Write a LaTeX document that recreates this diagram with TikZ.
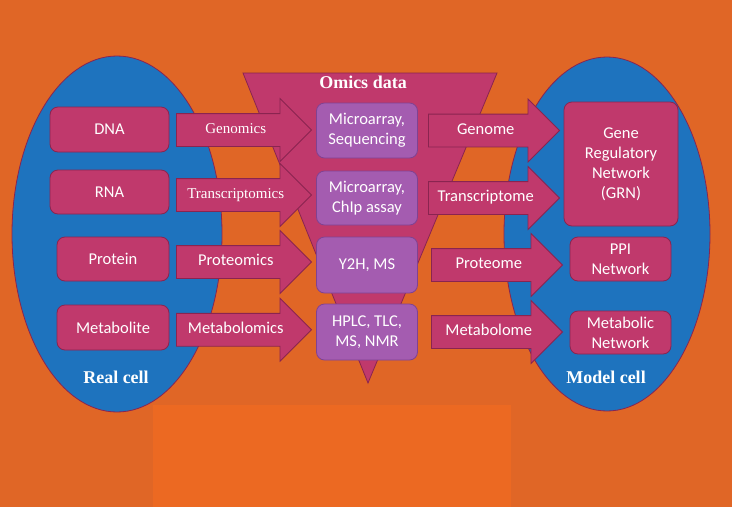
\documentclass[tikz,border=0pt]{standalone}
\usepackage{fontspec}
\setmainfont{Carlito}
\newfontfamily\timesfont{Liberation Serif}
\usepackage{tikz}
\usetikzlibrary{shapes.arrows, calc}
\definecolor{bgorange}{RGB}{224,102,38}
\definecolor{lightorange}{RGB}{236,105,34}
\definecolor{cellblue}{RGB}{30,115,190}
\definecolor{omicsred}{RGB}{192,57,108}
\definecolor{omicsdark}{RGB}{138,36,80}
\definecolor{assaypurple}{RGB}{164,92,176}
\definecolor{assaydark}{RGB}{128,66,146}

\begin{document}
\begin{tikzpicture}[x=1pt, y=-1pt,
    box/.style={draw=omicsdark, fill=omicsred, thick, rounded corners=8pt, text=white, align=center, inner sep=0pt, font=\fontsize{16.5}{20}\selectfont},
    assay/.style={box, draw=assaydark, fill=assaypurple, minimum width=101pt},
    bigarrow/.style={single arrow, draw=omicsdark, fill=omicsred, thick, text=white, single arrow head extend=15pt, text height=10pt, text depth=3pt, inner ysep=9.5pt, inner xsep=1pt, font=\fontsize{16.5}{20}\selectfont},
    serifarrow/.style={bigarrow, font=\timesfont\fontsize{15}{18}\selectfont},
    cell/.style={draw=omicsdark, fill=cellblue, thick},
    title/.style={text=white, font=\timesfont\bfseries\fontsize{18}{22}\selectfont}]
    \useasboundingbox (0,0) rectangle (732,507);
    \fill[bgorange] (0,0) rectangle (732,507);
    \fill[lightorange] (153,405) rectangle (511,507);

    % cells and funnel
    \draw[cell] (117,234) ellipse [x radius=105pt, y radius=178pt];
    \draw[cell] (607,234) ellipse [x radius=103pt, y radius=177pt];
    \draw[draw=omicsdark, fill=omicsred, thick] (243,73) -- (497,73) -- (368,383) -- cycle;
    \node[title] (omics) at (363,82) {Omics data};
    \node[title] (real) at (116,377) {Real cell};
    \node[title] (model) at (606,377) {Model cell};

    % real cell
    \node[box, minimum width=119pt, minimum height=45pt] (dna) at (109.5,129.5) {DNA};
    \node[box, minimum width=119pt, minimum height=44pt] (rna) at (109.5,192) {RNA};
    \node[box, minimum width=112pt, minimum height=44pt] (protein) at (113,259) {Protein};
    \node[box, minimum width=112pt, minimum height=45pt] (metabolite) at (113,327.5) {Metabolite};

    % omics data
    \node[assay, minimum height=55pt] (seq) at (367,130.5) {Microarray,\\Sequencing};
    \node[assay, minimum height=54pt] (chip) at (367,198) {Microarray,\\ChIp assay};
    \node[assay, minimum height=56pt] (y2h) at (367,265) {Y2H, MS};
    \node[assay, minimum height=56pt] (hplc) at (367,332) {HPLC, TLC,\\MS, NMR};

    % model cell
    \node[box, minimum width=114pt, minimum height=124pt] (grn) at (621,164) {Gene\\Regulatory\\Network\\(GRN)};
    \node[box, minimum width=101pt, minimum height=44pt] (ppi) at (620.5,259) {PPI\\Network};
    \node[box, minimum width=101pt, minimum height=43pt] (metnet) at (620.5,332.5) {Metabolic\\Network};

    % block arrows
    \node[serifarrow, minimum height=135pt, xshift=-7pt] (genomics) at ($(dna.east)!0.5!(seq.west)$) {Genomics};
    \node[serifarrow, minimum height=135pt, xshift=-7pt] (transcriptomics) at ($(rna.east)!0.5!(chip.west)$) {Transcriptomics};
    \node[bigarrow, minimum height=135pt, xshift=-7pt] (proteomics) at ($(protein.east)!0.5!(y2h.west)$) {Proteomics};
    \node[bigarrow, minimum height=135pt, xshift=-7pt] (metabolomics) at ($(metabolite.east)!0.5!(hplc.west)$) {Metabolomics};
    \node[bigarrow, minimum height=131pt, xshift=-5pt] (genome) at ($(seq.east)!0.5!(grn.west |- seq)$) {Genome};
    \node[bigarrow, minimum height=131pt, xshift=-5pt] (transcriptome) at ($(chip.east)!0.5!(grn.west |- chip)$) {Transcriptome};
    \node[bigarrow, minimum height=131pt, xshift=-5pt] (proteome) at ($(y2h.east)!0.5!(ppi.west |- y2h)$) {Proteome};
    \node[bigarrow, minimum height=131pt, xshift=-5pt] (metabolome) at ($(hplc.east)!0.5!(metnet.west |- hplc)$) {Metabolome};
\end{tikzpicture}
\end{document}
